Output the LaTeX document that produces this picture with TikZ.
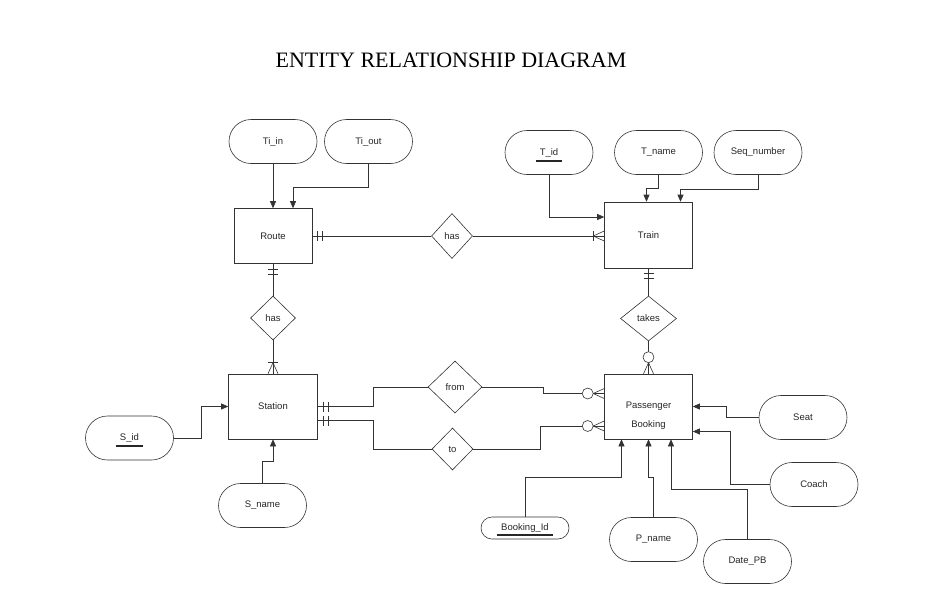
\documentclass[tikz,border=0pt]{standalone}
\usepackage{fontspec}
\setmainfont{Liberation Sans}
\newfontfamily\titlefont{Liberation Serif}
\usetikzlibrary{arrows.meta,calc,shapes.geometric,shapes.misc,decorations.markings}
\newcommand{\pkey}[2][-6.5pt]{\setbox0\hbox{#2}\copy0\kern-\wd0\kern-4pt\raisebox{#1}[0pt][0pt]{\rule{\dimexpr\wd0+8pt}{1.8pt}}\kern-4pt}
\begin{document}
\begin{tikzpicture}[x=1pt, y=-1pt, >={Triangle[length=7pt,width=6pt]},
  color=black!80, line width=0.6pt,
  every node/.style={font=\fontsize{9.5}{11}\selectfont, text=black!85},
  entity/.style={draw, rectangle, inner sep=0pt},
  attr/.style={draw, rounded rectangle, minimum width=88pt, minimum height=44pt, inner sep=0pt},
  rel/.style={draw, diamond, inner sep=0pt},
  bars start/.style={postaction={decorate, decoration={markings,
    mark=at position 5pt with {\draw (0,-5pt) -- (0,5pt);},
    mark=at position 10pt with {\draw (0,-5pt) -- (0,5pt);}}}},
  onemany end/.style={postaction={decorate, decoration={markings,
    mark=at position -11pt with {\draw (0,-5pt) -- (0,5pt); \draw (0,0) -- (11pt,5pt); \draw (0,0) -- (11pt,-5pt);}}}},
  zeromany end/.style={postaction={decorate, decoration={markings,
    mark=at position -11pt with {\draw (0,0) -- (11pt,5pt); \draw (0,0) -- (11pt,-5pt);},
    mark=at position -16.5pt with {\draw[fill=white] (0,0) circle (5.5pt);}}}}]
  \useasboundingbox (0,0) rectangle (949,598);

  \node[font=\titlefont\fontsize{22}{24}\selectfont, text=black] (title) at (451,60) {ENTITY RELATIONSHIP DIAGRAM};

  \node[entity, minimum width=78pt, minimum height=55pt] (route) at (273,236) {Route};
  \node[entity, minimum width=88pt, minimum height=66pt] (train) at (648.5,235) {Train};
  \node[entity, minimum width=89pt, minimum height=65pt] (station) at (273,406.5) {Station};
  \node[entity, minimum width=88pt, minimum height=65pt] (pb) at (648.5,406.5) {};
  \node[align=center] (pbtext) at (648.5,416) {Passenger\\[8pt]Booking};

  \node[attr] (tiin) at (273,141.5) {Ti\_in};
  \node[attr] (tiout) at (368.5,141.5) {Ti\_out};
  \node[attr] (tid) at (549,152.5) {\pkey[-7pt]{T\_id}};
  \node[attr] (tname) at (658.5,152.5) {T\_name};
  \node[attr] (seqnum) at (758,152.5) {Seq\_number};
  \node[attr] (sid) at (129.5,438) {\pkey{S\_id}};
  \node[attr] (sname) at (262.5,505.5) {S\_name};
  \node[attr] (seat) at (803,417.5) {Seat};
  \node[attr] (coach) at (814,484.5) {Coach};
  \node[attr, minimum height=22pt] (bookid) at (525,528) {\pkey[-5.5pt]{Booking\_Id}};
  \node[attr] (pname) at (653.5,539.5) {P\_name};
  \node[attr] (datepb) at (747.5,561.5) {Date\_PB};

  \node[rel, minimum width=41pt, minimum height=45pt] (hasrt) at (452,236) {has};
  \node[rel, minimum width=45pt, minimum height=44pt] (hasst) at (273,318) {has};
  \node[rel, minimum width=56pt, minimum height=45pt] (takes) at (648.5,318.5) {takes};
  \node[rel, minimum width=54pt, minimum height=52pt] (from) at (455,387) {from};
  \node[rel, minimum width=41pt, minimum height=42pt] (to) at (452.5,449) {to};

  \draw[->] (tiin.south) -- (route.north -| tiin.south);
  \draw[->] (tiout.south) -- ++(0,23) -| ($(route.north)+(20,0)$);
  \draw[->] (tid.south) |- ($(train.west)+(0,-18)$);
  \draw[->] (tname.south) -- ++(0,13) -| ($(train.north)+(-2,0)$);
  \draw[->] (seqnum.south) -- ++(0,14) -| ($(train.north)+(32,0)$);
  \draw[->] (sid.east) -- ++(27,0) |- (station.west);
  \draw[->] (sname.north) -- ++(0,-22) -| (station.south);
  \draw[->] (seat.west) -- ++(-32,0) |- (pb.east);
  \draw[->] (coach.west) -- ++(-39,0) |- ($(pb.east)+(0,25)$);
  \draw[->] (bookid.north) -- ++(0,-39) -| ($(pb.south)+(-27,0)$);
  \draw[->] (pname.north) -- ++(0,-40) -| (pb.south);
  \draw[->] (datepb.north) -- ++(0,-50) -| ($(pb.south)+(22.5,0)$);

  \draw[bars start] (route.east) -- (hasrt.west);
  \draw[onemany end] (hasrt.east) -- (hasrt.east -| train.west);
  \draw[bars start] (route.south) -- (hasst.north);
  \draw[onemany end] (hasst.south) -- (station.north);
  \draw[bars start] (train.south) -- (takes.north);
  \draw[zeromany end] (takes.south) -- (pb.north);
  \draw[bars start] (station.east) -- ++(55,0) |- (from.west);
  \draw[zeromany end] (from.east) -- ++(61,0) |- ($(pb.west)+(0,-13)$);
  \draw[bars start] ($(station.east)+(0,14)$) -- ++(55,0) |- (to.west);
  \draw[zeromany end] (to.east) -- ++(67,0) |- ($(pb.west)+(0,19.5)$);
\end{tikzpicture}
\end{document}
